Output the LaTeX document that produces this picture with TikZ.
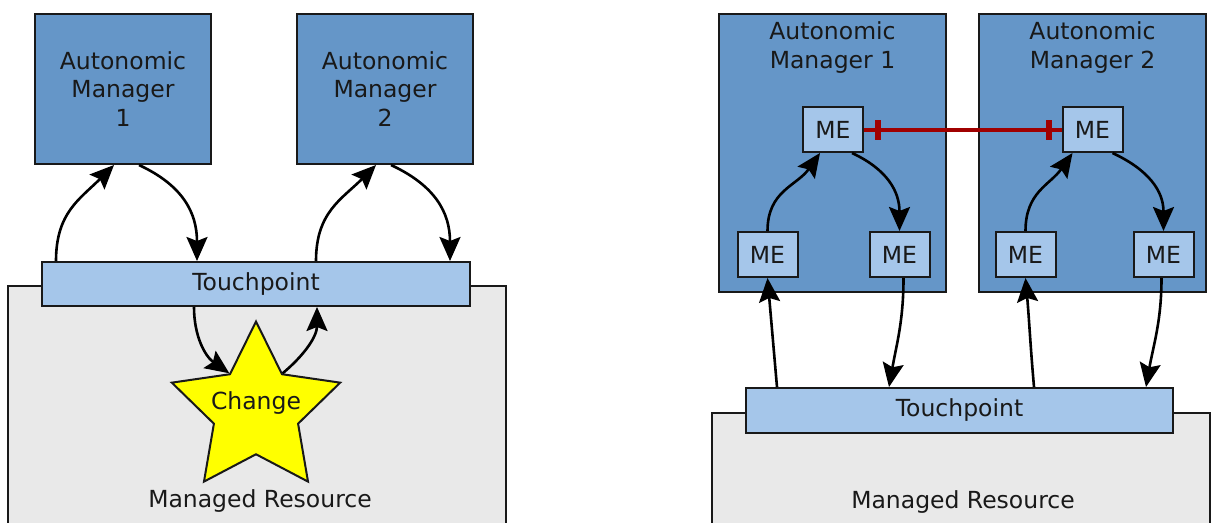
\documentclass[tikz,border=0pt]{standalone}
\usepackage{fontspec}
\setmainfont{DejaVu Sans}
\usetikzlibrary{arrows.meta,shapes.geometric}
\definecolor{amblue}{RGB}{101,150,200}
\definecolor{tpblue}{RGB}{165,198,234}
\definecolor{mrgray}{RGB}{233,233,233}
\definecolor{starfill}{RGB}{255,255,0}
\definecolor{linkred}{RGB}{160,0,0}
\definecolor{edge}{RGB}{25,25,25}
\tikzset{
  lbl/.style={font=\fontsize{23.5}{28.5}\selectfont, align=center, text=edge, inner sep=0pt},
  box/.style={lbl, draw=edge, line width=2pt},
  am/.style={box, fill=amblue},
  tp/.style={box, fill=tpblue},
  mr/.style={box, fill=mrgray},
  me/.style={tp, minimum width=60, minimum height=45},
  flow/.style={line width=2.6pt, draw=black, -{Stealth[length=24pt,width=21pt,inset=4pt]}},
  link/.style={line width=4pt, draw=linkred},
  bar/.style={fill=linkred, minimum width=6, minimum height=20, inner sep=0pt},
}
\begin{document}
\begin{tikzpicture}[x=1pt,y=1pt]
\useasboundingbox (0,0) rectangle (1212,-522);
\clip (0,0) rectangle (1212,-522);

% ---- shared touchpoint, two managers acting on the same resource ----
\node[mr, minimum width=498, minimum height=244] (mrL) at (257,-408) {};
\node[tp, minimum width=428, minimum height=44] (tpL) at (256,-284) {Touchpoint};
\node[am, minimum width=176, minimum height=150] (amL1) at (123,-89) {Autonomic\\Manager\\1};
\node[am, minimum width=176, minimum height=150] (amL2) at (385,-89) {Autonomic\\Manager\\2};
\node[star, star points=5, star point ratio=2, minimum size=177, inner sep=0pt,
      fill=starfill, draw=edge, line width=2pt] (chg) at (256,-410) {};
\node[lbl] (chgtxt) at (256,-403) {Change};
\node[lbl] (mrLtxt) at (260,-501) {Managed Resource};

\draw[flow] ([xshift=15]tpL.north west) to[out=90,in=-135,looseness=1.1] ([xshift=80]amL1.south west);
\draw[flow] ([xshift=105]amL1.south west) to[out=-25,in=90,looseness=1.1] ([xshift=156]tpL.north west);
\draw[flow] ([xshift=275]tpL.north west) to[out=90,in=-135,looseness=1.1] ([xshift=80]amL2.south west);
\draw[flow] ([xshift=95]amL2.south west) to[out=-25,in=90,looseness=1.1] ([xshift=409]tpL.north west);
\draw[flow] ([xshift=153]tpL.south west) to[out=-90,in=145] (chg.inner point 1);
\draw[flow] (chg.inner point 5) to[out=40,in=-90] ([xshift=276]tpL.south west);

% ---- managers coordinating through their management elements ----
\node[mr, minimum width=498, minimum height=117] (mrR) at (960.5,-471.5) {};
\node[tp, minimum width=427, minimum height=45] (tpR) at (959.5,-410.5) {Touchpoint};
\node[lbl] (mrRtxt) at (963,-502) {Managed Resource};
\node[am, minimum width=227, minimum height=278] (amR1) at (832.5,-153) {};
\node[am, minimum width=227, minimum height=278] (amR2) at (1092.5,-153) {};
\node[lbl] (amR1t) at (832.5,-47.5) {Autonomic\\Manager 1};
\node[lbl] (amR2t) at (1092.5,-47.5) {Autonomic\\Manager 2};

\node[me] (meA) at (833,-129.5) {ME};
\node[me] (meAl) at (767.5,-254.5) {ME};
\node[me] (meAr) at (899.5,-254.5) {ME};
\node[me] (meB) at (1092.5,-129.5) {ME};
\node[me] (meBl) at (1025.5,-254.5) {ME};
\node[me] (meBr) at (1163.5,-254.5) {ME};

\draw[link] (meA.east) -- (meB.west)
  node[bar, pos=0.07] (barA) {} node[bar, pos=0.935] (barB) {};

\draw[flow] (meAl.north) to[out=90,in=-125,looseness=1.1] ([xshift=-13]meA.south);
\draw[flow] ([xshift=19]meA.south) to[out=-25,in=90,looseness=1.1] (meAr.north);
\draw[flow] (meBl.north) to[out=90,in=-125,looseness=1.1] ([xshift=-20]meB.south);
\draw[flow] ([xshift=20]meB.south) to[out=-25,in=90,looseness=1.1] (meBr.north);

\draw[flow] ([xshift=32]tpR.north west) to[out=95,in=-85] (meAl.south);
\draw[flow] ([xshift=4]meAr.south) to[out=-90,in=80] ([xshift=144]tpR.north west);
\draw[flow] ([xshift=289]tpR.north west) to[out=95,in=-85] (meBl.south);
\draw[flow] ([xshift=-2]meBr.south) to[out=-90,in=80] ([xshift=401]tpR.north west);
\end{tikzpicture}
\end{document}
